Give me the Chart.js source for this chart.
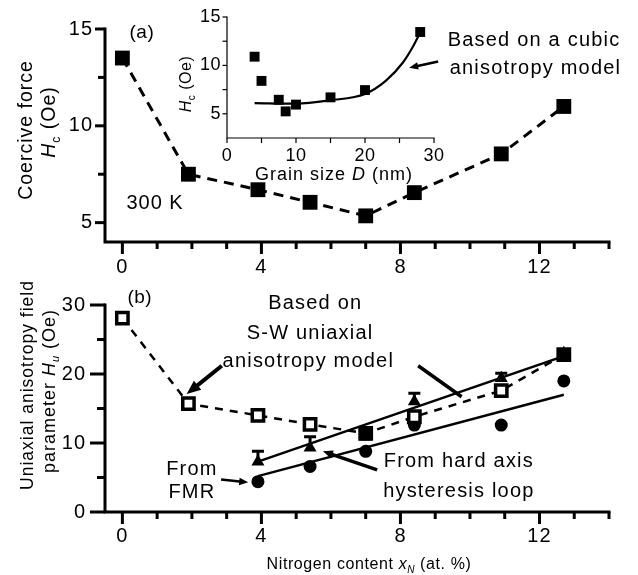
<!DOCTYPE html>
<html>
<head>
<meta charset="utf-8">
<title>Hc and Hu vs nitrogen content</title>
<script src="https://cdn.jsdelivr.net/npm/chart.js@4.4.1/dist/chart.umd.min.js"></script>
<style>
  html, body { margin: 0; background: #fff; }
  #fig { position: relative; width: 638px; height: 575px; overflow: hidden; }
  #fig canvas { position: absolute; left: 0; }
</style>
</head>
<body>
<div id="fig">
  <canvas id="chart-hc" width="638" height="290" style="top:0"></canvas>
  <canvas id="chart-inset" width="638" height="290" style="top:0"></canvas>
  <canvas id="chart-hu" width="638" height="305" style="top:270px"></canvas>
</div>
<script>
/*  ================= DATA =================  */
// (a) coercive force vs nitrogen content
const nitrogen = [0, 1.9, 3.9, 5.4, 7.0, 8.4, 10.9, 12.7];
const coerciveHc = [13.5, 7.5, 6.7, 6.05, 5.35, 6.55, 8.55, 11.0];

// inset: Hc vs grain size
const grainSize = [4.0, 5.0, 7.5, 8.5, 10.0, 15.0, 20.0, 28.0];
const grainHc = [10.9, 8.4, 6.45, 5.25, 5.95, 6.7, 7.45, 13.45];
// cubic anisotropy model curve
const cubicD = [4, 10, 15, 20, 23, 25.5, 27, 28];
const cubicHc = [6.1, 6.05, 6.4, 7.05, 8.4, 10.3, 12.0, 13.4];

// (b) uniaxial anisotropy field parameter
const swModelHu = [28.1, 15.7, 14.0, 12.7, 11.4, 13.8, 17.6, 22.8];
const nitrogenMeas = [3.9, 5.4, 7.0, 8.4, 10.9, 12.7];
const hardAxisHu = [7.3, 9.3, 10.9, 16.0, 19.4, 23.0];
const hardAxisErr = [1.5, 1.6, 1.0, 1.2, 0.7, 0.5];
const fmrHu = [4.4, 6.6, 8.8, 12.6, 12.6, 19.0];
const fitX = [3.9, 12.7];
const hardAxisFit = [7.3, 22.6];
const fmrFit = [5.2, 17.0];

// ticks
const nTickLabels = [0, 4, 8, 12];
const nTickMinor = [1, 2, 3, 5, 6, 7, 9, 10, 11, 13, 14];
const hcTickLabels = [5, 10, 15];
const hcTickMinor = [7.5, 12.5];
const dTickLabels = [0, 10, 20, 30];
const dTickMinor = [5, 15, 25];
const huTickLabels = [0, 10, 20, 30];
const huTickMinor = [5, 15, 25];
/*  ======================================== */

const FONT = '"Liberation Sans", Arial, Helvetica, sans-serif';

const pts = (xs, ys) => xs.map((x, i) => ({ x, y: ys[i] }));
const toPx = (chart, x, y) => ({
  x: chart.scales.x.getPixelForValue(x),
  y: chart.scales.y.getPixelForValue(y),
});

// текст из кусков: [текст, стиль] где стиль '', 'i', 'sub', 'isub'
function richText(ctx, parts, x, y, size, opts = {}) {
  ctx.save();
  ctx.translate(x, y);
  if (opts.rotate) ctx.rotate(-Math.PI / 2);
  ctx.fillStyle = "#000";
  ctx.textBaseline = "middle";
  ctx.textAlign = "left";
  ctx.letterSpacing = (opts.spacing ?? 1) + "px";
  const fontFor = (st) =>
    `${st.includes("i") ? "italic " : ""}${st.includes("sub") ? Math.round(size * 0.62) : size}px ${FONT}`;
  let total = 0;
  const widths = parts.map(([t, st = ""]) => {
    ctx.font = fontFor(st);
    const w = ctx.measureText(t).width;
    total += w;
    return w;
  });
  let cx = opts.align === "left" ? 0 : opts.align === "right" ? -total : -total / 2;
  parts.forEach(([t, st = ""], i) => {
    ctx.font = fontFor(st);
    ctx.fillText(t, cx, st.includes("sub") ? size * 0.35 : 0);
    cx += widths[i];
  });
  ctx.restore();
}

function drawArrow(ctx, p0, p1, width, head) {
  const ang = Math.atan2(p1.y - p0.y, p1.x - p0.x);
  const c = Math.cos(ang), s = Math.sin(ang);
  const end = head ? { x: p1.x - c * head * 0.7, y: p1.y - s * head * 0.7 } : p1;
  ctx.save();
  ctx.strokeStyle = "#000";
  ctx.fillStyle = "#000";
  ctx.lineWidth = width;
  ctx.beginPath();
  ctx.moveTo(p0.x, p0.y);
  ctx.lineTo(end.x, end.y);
  ctx.stroke();
  if (head) {
    const hw = head * 0.42;
    ctx.beginPath();
    ctx.moveTo(p1.x, p1.y);
    ctx.lineTo(p1.x - c * head + s * hw, p1.y - s * head - c * hw);
    ctx.lineTo(p1.x - c * head - s * hw, p1.y - s * head + c * hw);
    ctx.closePath();
    ctx.fill();
  }
  ctx.restore();
}

// оси: левая и нижняя линии, тики наружу, подписи
function axesPlugin(spec) {
  return {
    id: "axes",
    beforeDatasetsDraw(chart) {
      const { ctx, chartArea: a, scales } = chart;
      const sx = scales.x, sy = scales.y;
      ctx.save();
      ctx.strokeStyle = "#000";
      ctx.lineWidth = spec.lineWidth;
      ctx.lineCap = "square";
      ctx.beginPath();
      ctx.moveTo(a.left, a.top);
      ctx.lineTo(a.left, a.bottom);
      ctx.lineTo(a.right, a.bottom);
      ctx.stroke();
      ctx.lineCap = "butt";
      const tickX = (v, len) => {
        const p = sx.getPixelForValue(v);
        ctx.beginPath(); ctx.moveTo(p, a.bottom); ctx.lineTo(p, a.bottom + len); ctx.stroke();
      };
      const tickY = (v, len) => {
        const p = sy.getPixelForValue(v);
        ctx.beginPath(); ctx.moveTo(a.left, p); ctx.lineTo(a.left - len, p); ctx.stroke();
      };
      spec.xLabels.forEach((v) => tickX(v, spec.xMajorLen));
      spec.xMinor.forEach((v) => tickX(v, spec.xMinorLen));
      spec.yLabels.forEach((v) => tickY(v, spec.yMajorLen));
      spec.yMinor.forEach((v) => tickY(v, spec.yMinorLen));
      ctx.restore();

      spec.xLabels.forEach((v) =>
        richText(ctx, [[String(v)]], sx.getPixelForValue(v), a.bottom + spec.xLabelGap, spec.font, { spacing: spec.spacing })
      );
      spec.yLabels.forEach((v) =>
        richText(ctx, [[String(v)]], a.left - spec.yLabelGap, sy.getPixelForValue(v), spec.font, { align: "right", spacing: spec.spacing })
      );
    },
  };
}

const common = {
  responsive: false,
  maintainAspectRatio: false,
  animation: false,
  devicePixelRatio: 1,
  events: [],
};
const noLegend = { legend: { display: false }, tooltip: { enabled: false } };

/*  ---------- (a) ---------- */
new Chart(document.getElementById("chart-hc"), {
  type: "scatter",
  data: {
    datasets: [{
      data: pts(nitrogen, coerciveHc),
      showLine: true,
      borderColor: "#000",
      borderWidth: 3,
      borderDash: [10, 7],
      pointStyle: "rect",
      pointRadius: 10.5,
      pointBackgroundColor: "#000",
      pointBorderWidth: 0,
      clip: false,
    }],
  },
  options: {
    ...common,
    plugins: noLegend,
    layout: { padding: { left: 105, right: 29, top: 29, bottom: 48 } },
    scales: {
      x: { type: "linear", min: -0.5, max: 14, display: false },
      y: { type: "linear", min: 4, max: 15, display: false },
    },
  },
  plugins: [
    axesPlugin({
      lineWidth: 3, xMajorLen: 12, xMinorLen: 7, yMajorLen: 10, yMinorLen: 7,
      xLabels: nTickLabels, xMinor: nTickMinor, yLabels: hcTickLabels, yMinor: hcTickMinor,
      font: 20, spacing: 1, xLabelGap: 25, yLabelGap: 12,
    }),
    {
      id: "labelsA",
      afterDraw(chart) {
        const { ctx, chartArea: a } = chart;
        richText(ctx, [["Coercive force"]], a.left - 78, a.top + 101, 19.5, { rotate: true });
        richText(ctx, [["H", "i"], ["c", "sub"], [" (Oe)"]], a.left - 55, a.top + 93, 19.5, { rotate: true });
        let p = toPx(chart, 0.56, 14.8);
        richText(ctx, [["(a)"]], p.x, p.y, 19, { spacing: 0.5 });
        p = toPx(chart, 0.94, 6.0);
        richText(ctx, [["300 K"]], p.x, p.y, 20, { spacing: 1 });
      },
    },
  ],
});

/*  ---------- inset ---------- */
new Chart(document.getElementById("chart-inset"), {
  type: "scatter",
  data: {
    datasets: [
      {
        data: pts(grainSize, grainHc),
        pointStyle: "rect",
        pointRadius: 7,
        pointBackgroundColor: "#000",
        pointBorderWidth: 0,
        clip: false,
      },
      {
        data: pts(cubicD, cubicHc),
        showLine: true,
        borderColor: "#000",
        borderWidth: 2.2,
        cubicInterpolationMode: "monotone",
        pointRadius: 0,
        clip: false,
      },
    ],
  },
  options: {
    ...common,
    plugins: noLegend,
    layout: { padding: { left: 227, right: 204, top: 17, bottom: 152 } },
    scales: {
      x: { type: "linear", min: 0, max: 30, display: false },
      y: { type: "linear", min: 2.5, max: 15, display: false },
    },
  },
  plugins: [
    axesPlugin({
      lineWidth: 1.2, xMajorLen: 5, xMinorLen: 5, yMajorLen: 4.5, yMinorLen: 4.5,
      xLabels: dTickLabels, xMinor: dTickMinor, yLabels: hcTickLabels, yMinor: hcTickMinor,
      font: 18, spacing: 0.5, xLabelGap: 18, yLabelGap: 6,
    }),
    {
      id: "labelsInset",
      afterDraw(chart) {
        const { ctx, chartArea: a } = chart;
        richText(ctx, [["H", "i"], ["c", "sub"], [" (Oe)"]], a.left - 40, a.top + 67, 16, { rotate: true, spacing: 0.5 });
        richText(ctx, [["Grain size "], ["D", "i"], [" (nm)"]], a.left + 107, a.bottom + 37, 18, { spacing: 1 });
        let p = toPx(chart, 44.5, 12.6);
        richText(ctx, [["Based on a cubic"]], p.x, p.y, 20, { spacing: 1.2 });
        p = toPx(chart, 44.7, 9.73);
        richText(ctx, [["anisotropy model"]], p.x, p.y, 20, { spacing: 1.2 });
        drawArrow(ctx, toPx(chart, 30.6, 10.4), toPx(chart, 26.4, 9.75), 2.5, 9);
      },
    },
  ],
});

/*  ---------- (b) ---------- */
new Chart(document.getElementById("chart-hu"), {
  type: "scatter",
  data: {
    datasets: [
      {
        // S-W uniaxial anisotropy model
        data: pts(nitrogen, swModelHu),
        showLine: true,
        borderColor: "#000",
        borderWidth: 2.5,
        borderDash: [8, 7],
        pointStyle: "rect",
        pointRadius: 8,
        pointBorderWidth: 3.5,
        pointBorderColor: "#000",
        pointBackgroundColor: ["#fff", "#fff", "#fff", "#fff", "#000", "#fff", "#fff", "#000"],
        clip: false,
      },
      {
        // hard axis hysteresis loop
        data: pts(nitrogenMeas, hardAxisHu),
        pointStyle: "triangle",
        pointRadius: 7.5,
        pointBackgroundColor: "#000",
        pointBorderWidth: 0,
        clip: false,
      },
      {
        // FMR
        data: pts(nitrogenMeas, fmrHu),
        pointStyle: "circle",
        pointRadius: 6.5,
        pointBackgroundColor: "#000",
        pointBorderWidth: 0,
        clip: false,
      },
      {
        data: pts(fitX, hardAxisFit),
        showLine: true,
        borderColor: "#000",
        borderWidth: 2.5,
        pointRadius: 0,
      },
      {
        data: pts(fitX, fmrFit),
        showLine: true,
        borderColor: "#000",
        borderWidth: 2.5,
        pointRadius: 0,
      },
    ],
  },
  options: {
    ...common,
    plugins: noLegend,
    layout: { padding: { left: 105, right: 29, top: 35, bottom: 63 } },
    scales: {
      x: { type: "linear", min: -0.5, max: 14, display: false },
      y: { type: "linear", min: 0, max: 30, display: false },
    },
  },
  plugins: [
    axesPlugin({
      lineWidth: 3, xMajorLen: 12, xMinorLen: 7, yMajorLen: 15, yMinorLen: 8,
      xLabels: nTickLabels, xMinor: nTickMinor, yLabels: huTickLabels, yMinor: huTickMinor,
      font: 20, spacing: 1, xLabelGap: 24, yLabelGap: 19,
    }),
    {
      id: "errorBars",
      afterDatasetsDraw(chart) {
        const { ctx } = chart;
        ctx.save();
        ctx.strokeStyle = "#000";
        ctx.lineWidth = 3;
        nitrogenMeas.forEach((x, i) => {
          const p0 = toPx(chart, x, hardAxisHu[i]);
          const p1 = toPx(chart, x, hardAxisHu[i] + hardAxisErr[i]);
          ctx.beginPath();
          ctx.moveTo(p0.x, p0.y);
          ctx.lineTo(p1.x, p1.y);
          ctx.moveTo(p1.x - 6, p1.y);
          ctx.lineTo(p1.x + 6, p1.y);
          ctx.stroke();
        });
        ctx.restore();
      },
    },
    {
      id: "labelsB",
      afterDraw(chart) {
        const { ctx, chartArea: a } = chart;
        richText(ctx, [["Uniaxial anisotropy field"]], a.left - 77, a.top + 80, 17.5, { rotate: true });
        richText(ctx, [["parameter "], ["H", "i"], ["u", "isub"], [" (Oe)"]], a.left - 55, a.top + 86, 18, { rotate: true });
        richText(ctx, [["Nitrogen content "], ["x", "i"], ["N", "isub"], [" (at. %)"]], a.left + 264, a.bottom + 53, 16, { spacing: 0.6 });

        const t = (s, x, y, size = 20, sp = 1.2) => {
          const p = toPx(chart, x, y);
          richText(ctx, [[s]], p.x, p.y, size, { spacing: sp });
        };
        t("(b)", 0.5, 31.0, 19, 0.5);
        t("Based on", 5.55, 30.2);
        t("S-W uniaxial", 5.4, 25.8);
        t("anisotropy model", 5.35, 21.8);
        t("From", 2.0, 6.1);
        t("FMR", 2.0, 2.8);
        t("From hard axis", 9.68, 7.3);
        t("hysteresis loop", 9.68, 3.0);

        drawArrow(ctx, toPx(chart, 2.86, 21.2), toPx(chart, 1.85, 17.1), 4, 14);
        drawArrow(ctx, toPx(chart, 8.51, 21.2), toPx(chart, 9.76, 16.7), 3.5, 0);
        drawArrow(ctx, toPx(chart, 2.84, 4.7), toPx(chart, 3.62, 4.3), 2.5, 9);
        drawArrow(ctx, toPx(chart, 7.33, 6.1), toPx(chart, 5.77, 8.8), 3.5, 10);
      },
    },
  ],
});
</script>
</body>
</html>
